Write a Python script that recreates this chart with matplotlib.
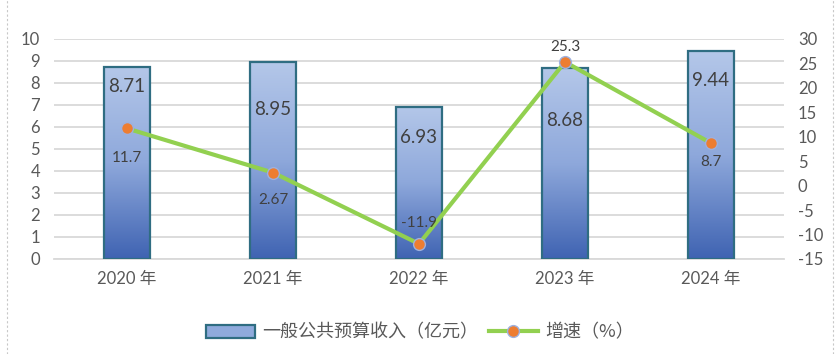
import matplotlib
matplotlib.use("Agg")
import matplotlib.pyplot as plt
import numpy as np
from matplotlib.patches import Patch
from matplotlib.lines import Line2D
from matplotlib.colors import LinearSegmentedColormap

plt.rcParams['font.family'] = ['Lato', 'Noto Sans CJK SC', 'DejaVu Sans']
plt.rcParams['axes.unicode_minus'] = False

categories = ["2020 年", "2021 年", "2022 年", "2023 年", "2024 年"]
revenue = [8.71, 8.95, 6.93, 8.68, 9.44]
growth = [11.7, 2.67, -11.9, 25.3, 8.7]
growth_labels = ["11.7", "2.67", "-11.9", "25.3", "8.7"]
legend_labels = ["一般公共预算收入（亿元）", "增速（%）"]

# label placement (pixels below bar top / below point; negative = above)
bar_label_drop_px = [19, 47, 31, 52, 29]
line_label_drop_px = [30, 27, -21, -15, 19]

txt = "#595959"
fig = plt.figure(figsize=(8.4, 3.54), dpi=100)
ax = fig.add_axes([0.0643, 0.2684, 0.8690, 0.6215])
ax2 = ax.twinx()

x = np.arange(len(categories))
w = 0.32
cmap = LinearSegmentedColormap.from_list("g", ["#3f63b2", "#8ea8db", "#b4c7e9"])
grad = np.linspace(0, 1, 256).reshape(-1, 1)
bars = ax.bar(x, revenue, width=w, facecolor="none", edgecolor="#2f6d82", linewidth=1.6, zorder=3)
for b in bars:
    x0, y0 = b.get_x(), b.get_y()
    im = ax.imshow(grad, cmap=cmap, aspect="auto", origin="lower",
                   extent=[x0, x0 + b.get_width(), y0, y0 + b.get_height()], zorder=2)
    im.set_clip_path(b)
for xi, v, d in zip(x, revenue, bar_label_drop_px):
    ax.annotate(f"{v:.2f}", (xi, v), xytext=(0, -d * 0.72), textcoords="offset points",
                ha="center", va="center", fontsize=13.5, color="#404040", zorder=5)

ax.set_xlim(-0.5, len(categories) - 0.5)
ax.set_ylim(0, 10)
ax.set_yticks(range(0, 11))
ax.set_xticks(x)
ax.set_xticklabels(categories)
ax.tick_params(axis="both", length=0, labelsize=12, colors=txt)
ax.tick_params(axis="x", pad=9)
ax.tick_params(axis="y", pad=10)
ax.grid(axis="y", color="#d9d9d9", linewidth=1.3, zorder=0)
ax.set_axisbelow(True)
for s in ax.spines.values():
    s.set_visible(False)
ax.spines["bottom"].set_visible(True)
ax.spines["bottom"].set_color("#d9d9d9")
ax.spines["bottom"].set_linewidth(1.3)

ax2.plot(x, growth, color="#92d050", linewidth=3, marker="o", markersize=8.5,
         markerfacecolor="#ed7d31", markeredgecolor="#9db0de", markeredgewidth=1, zorder=6)
ax2.set_ylim(-15, 30)
ax2.set_yticks(range(-15, 31, 5))
ax2.tick_params(axis="y", length=0, labelsize=12, colors=txt, pad=10)
for s in ax2.spines.values():
    s.set_visible(False)
for xi, v, lab, d in zip(x, growth, growth_labels, line_label_drop_px):
    ax2.annotate(lab, (xi, v), xytext=(0, -d * 0.72), textcoords="offset points",
                 ha="center", va="center", fontsize=11, color="#404040", zorder=7)

handles = [Patch(facecolor="#8faadc", edgecolor="#2f6d82", linewidth=1.6),
           Line2D([0], [0], color="#92d050", linewidth=3, marker="o", markersize=8.5,
                  markerfacecolor="#ed7d31", markeredgecolor="#9db0de")]
fig.legend(handles, legend_labels, loc="center", bbox_to_anchor=(0.5, 0.06), ncol=2,
           frameon=False, labelcolor=txt, handlelength=2.7,
           handleheight=0.8, columnspacing=0.6, handletextpad=0.4,
           prop={'family': ['Noto Sans CJK SC'], 'size': 13})

# dashed frame edges
fig.add_artist(Line2D([0.008, 0.008], [0, 1], transform=fig.transFigure, color="#c8c8c8",
                      linestyle=(0, (2, 2)), linewidth=0.8))
fig.add_artist(Line2D([0.992, 0.992], [0, 1], transform=fig.transFigure, color="#c8c8c8",
                      linestyle=(0, (2, 2)), linewidth=0.8))

fig.savefig("out.png", dpi=100)
